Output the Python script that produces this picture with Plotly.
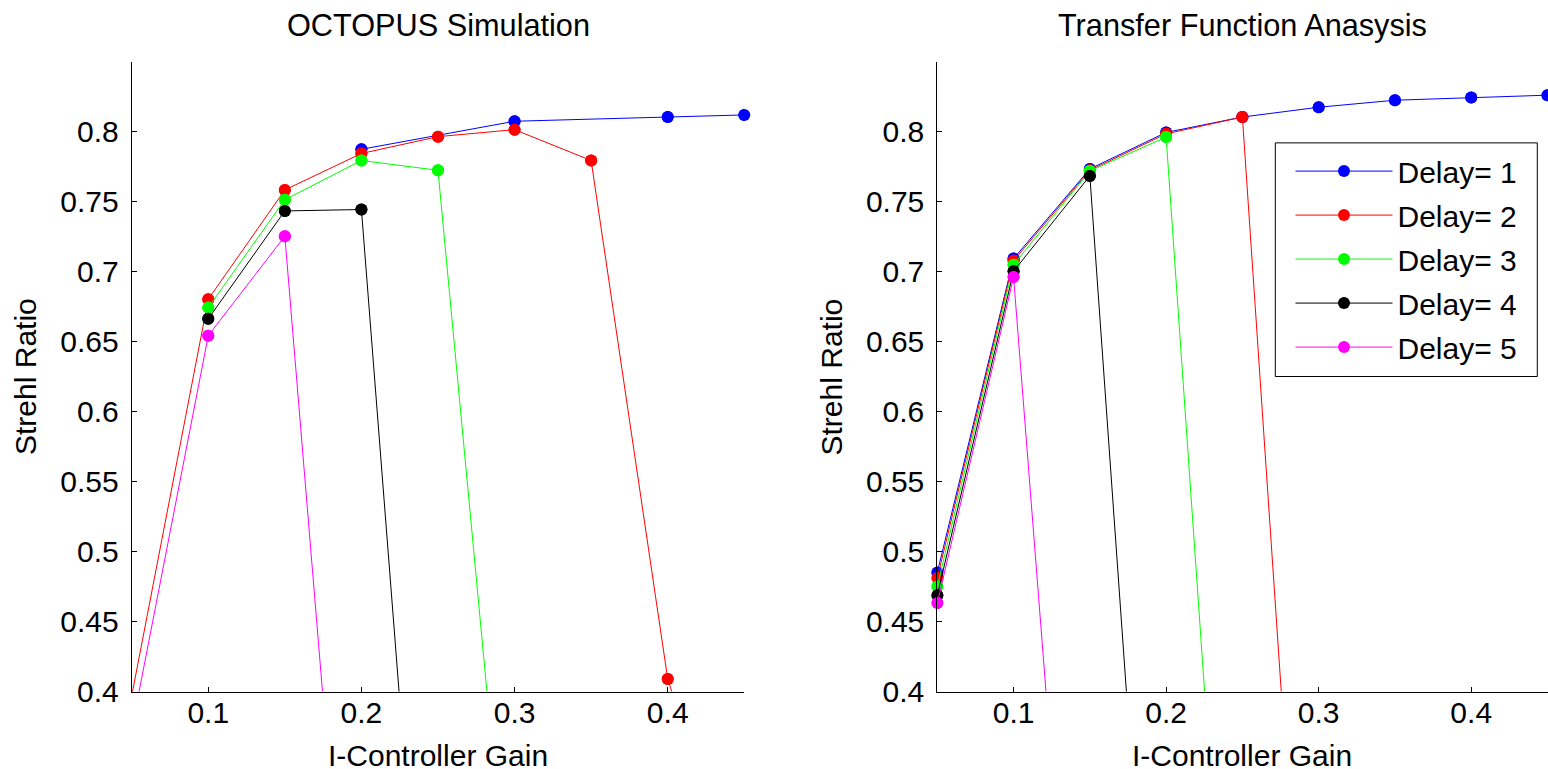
import plotly.graph_objects as go

# ---------------- data ----------------
series_names = ["Delay= 1", "Delay= 2", "Delay= 3", "Delay= 4", "Delay= 5"]
series_colors = ["#0000FF", "#FF0000", "#00FF00", "#000000", "#FF00FF"]

# OCTOPUS Simulation (left panel)
oct_x_d1 = [0.20, 0.30, 0.40, 0.45]
oct_y_d1 = [0.787, 0.807, 0.810, 0.8115]
oct_x_d2 = [0.05, 0.10, 0.15, 0.20, 0.25, 0.30, 0.35, 0.40, 0.45]
oct_y_d2 = [0.397, 0.680, 0.758, 0.784, 0.796, 0.801, 0.779, 0.409, 0.240]
oct_x_d3 = [0.10, 0.15, 0.20, 0.25, 0.30]
oct_y_d3 = [0.674, 0.751, 0.779, 0.772, 0.190]
oct_x_d4 = [0.10, 0.15, 0.20, 0.25]
oct_y_d4 = [0.666, 0.743, 0.744, 0.044]
oct_x_d5 = [0.05, 0.10, 0.15, 0.20]
oct_y_d5 = [0.373, 0.654, 0.725, 0.064]

# Transfer Function Analysis (right panel)
tf_x_d1 = [0.05, 0.10, 0.15, 0.20, 0.25, 0.30, 0.35, 0.40, 0.45]
tf_y_d1 = [0.485, 0.709, 0.773, 0.799, 0.810, 0.817, 0.822, 0.824, 0.8256]
tf_x_d2 = [0.05, 0.10, 0.15, 0.20, 0.25, 0.30]
tf_y_d2 = [0.481, 0.7075, 0.772, 0.798, 0.810, 0.005]
tf_x_d3 = [0.05, 0.10, 0.15, 0.20, 0.25]
tf_y_d3 = [0.475, 0.7046, 0.7715, 0.7957, 0.011]
tf_x_d4 = [0.05, 0.10, 0.15, 0.20]
tf_y_d4 = [0.4687, 0.700, 0.768, 0.0]
tf_x_d5 = [0.05, 0.10, 0.15]
tf_y_d5 = [0.4632, 0.6958, 0.0]

x_tickvals = [0.1, 0.2, 0.3, 0.4]
x_ticktext = ["0.1", "0.2", "0.3", "0.4"]
y_tickvals = [0.4, 0.45, 0.5, 0.55, 0.6, 0.65, 0.7, 0.75, 0.8]
y_ticktext = ["0.4", "0.45", "0.5", "0.55", "0.6", "0.65", "0.7", "0.75", "0.8"]

titles = ["OCTOPUS Simulation", "Transfer Function Anasysis"]
x_title = "I-Controller Gain"
y_title = "Strehl Ratio"

X_RANGE = [0.05, 0.45]
Y_RANGE = [0.4, 0.849]

oct_data = [(oct_x_d1, oct_y_d1), (oct_x_d2, oct_y_d2), (oct_x_d3, oct_y_d3),
            (oct_x_d4, oct_y_d4), (oct_x_d5, oct_y_d5)]
tf_data = [(tf_x_d1, tf_y_d1), (tf_x_d2, tf_y_d2), (tf_x_d3, tf_y_d3),
           (tf_x_d4, tf_y_d4), (tf_x_d5, tf_y_d5)]

# ---------------- figure ----------------
W, H = 1548, 787
K = 787 / 769          # vertical page-to-picture factor
FONT = "Liberation Sans, Arial, Helvetica, sans-serif"
FS = 30
FS_TITLE = 30.7
MS = 12

fig = go.Figure()

def add_panel(data, xa, ya, legend):
    for i, (xs, ys) in enumerate(data):
        # connecting line (clipped to the axes box)
        fig.add_trace(go.Scatter(
            x=xs, y=ys, xaxis=xa, yaxis=ya, mode="lines+markers",
            name=series_names[i], legendgroup=series_names[i],
            showlegend=legend,
            line=dict(color=series_colors[i], width=1),
            marker=dict(color=series_colors[i], size=MS, symbol="circle"),
            cliponaxis=True))
        # in-range markers drawn whole, even on the axes edges
        xm = [x for x, y in zip(xs, ys) if Y_RANGE[0] <= y <= Y_RANGE[1]]
        ym = [y for y in ys if Y_RANGE[0] <= y <= Y_RANGE[1]]
        fig.add_trace(go.Scatter(
            x=xm, y=ym, xaxis=xa, yaxis=ya, mode="markers",
            showlegend=False, legendgroup=series_names[i],
            marker=dict(color=series_colors[i], size=MS, symbol="circle"),
            cliponaxis=False, hoverinfo="skip"))

add_panel(oct_data, "x", "y", False)
add_panel(tf_data, "x2", "y2", True)

def py(px):
    """picture pixel row (from top) -> paper fraction"""
    return 1 - px * K / H

ydom = [py(690.7), py(62.3)]
xdom1 = [131.7 / W, 744.3 / W]
xdom2 = [937.3 / W, 1547.5 / W]

axis_common = dict(
    showline=True, linecolor="black", linewidth=1, mirror=False,
    ticks="inside", ticklen=5, tickwidth=1, tickcolor="black",
    showgrid=False, zeroline=False,
    tickfont=dict(family=FONT, size=FS, color="black"),
)

fig.update_layout(
    width=W, height=H, autosize=False,
    margin=dict(l=0, r=0, t=0, b=0),
    paper_bgcolor="white", plot_bgcolor="white",
    font=dict(family=FONT, size=FS, color="black"),
    xaxis=dict(domain=xdom1, anchor="y", range=X_RANGE, tickmode="array",
               tickvals=x_tickvals, ticktext=x_ticktext, ticklabelstandoff=-6,
               **axis_common),
    yaxis=dict(domain=ydom, anchor="x", range=Y_RANGE, tickmode="array",
               tickvals=y_tickvals, ticktext=y_ticktext, ticklabelstandoff=6,
               **axis_common),
    xaxis2=dict(domain=xdom2, anchor="y2", range=X_RANGE, tickmode="array",
                tickvals=x_tickvals, ticktext=x_ticktext, ticklabelstandoff=-6,
                **axis_common),
    yaxis2=dict(domain=ydom, anchor="x2", range=Y_RANGE, tickmode="array",
                tickvals=y_tickvals, ticktext=y_ticktext, ticklabelstandoff=6,
                **axis_common),
    legend=dict(
        x=1290.5 / W, y=py(144.9), xanchor="left", yanchor="top",
        bgcolor="rgba(0,0,0,0)", borderwidth=0,
        font=dict(family=FONT, size=FS, color="black"),
        itemwidth=97, tracegroupgap=2, traceorder="grouped",
    ),
    showlegend=True,
    shapes=[
        dict(type="rect", xref="paper", yref="paper",
             x0=1275.3 / W, x1=1537.3 / W, y0=py(376), y1=py(142.7),
             line=dict(color="black", width=1), fillcolor="white", layer="below"),
    ],
)

ann = []
centers = [(xdom1[0] + xdom1[1]) / 2, (xdom2[0] + xdom2[1]) / 2]
for k in range(2):
    ann.append(dict(text=titles[k], x=centers[k], y=py(25), xref="paper", yref="paper",
                    xanchor="center", yanchor="middle", showarrow=False,
                    font=dict(family=FONT, size=FS_TITLE, color="black")))
    ann.append(dict(text=x_title, x=centers[k], y=py(754.5), xref="paper", yref="paper",
                    xanchor="center", yanchor="middle", showarrow=False,
                    font=dict(family=FONT, size=FS, color="black")))
ylab_x = [26 / W, 831.5 / W]
for k in range(2):
    ann.append(dict(text=y_title, x=ylab_x[k], y=py(376.5), xref="paper", yref="paper",
                    xanchor="center", yanchor="middle", textangle=-90, showarrow=False,
                    font=dict(family=FONT, size=FS, color="black")))
fig.update_layout(annotations=ann)

fig.write_html("out.html")
